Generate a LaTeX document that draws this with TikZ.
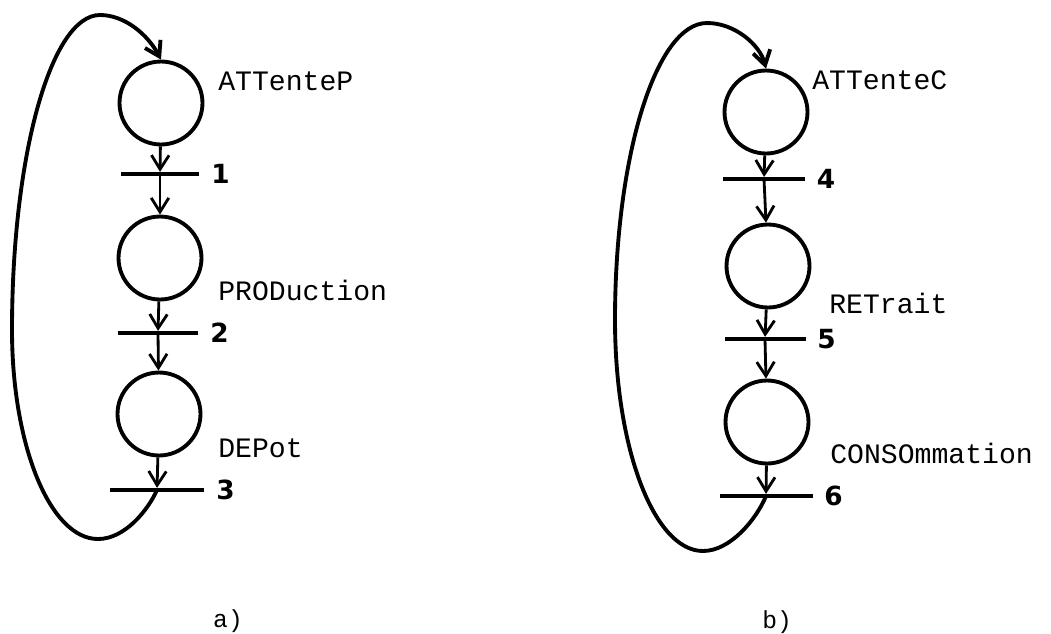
\documentclass[tikz,border=0pt]{standalone}
\usepackage{fontspec}
\setmonofont{Liberation Mono}
\newfontfamily\handfont{DejaVu Sans}
\usetikzlibrary{arrows.meta}

\tikzset{
  place/.style={draw,line width=2.2pt,circle,minimum size=1.66cm,inner sep=0pt},
  trans/.style={fill=black,rectangle,inner sep=0pt,minimum height=2pt,minimum width=#1},
  tnum/.style={font=\handfont\bfseries\fontsize{15}{17}\selectfont},
  pname/.style={anchor=base west,inner sep=0pt,font=\ttfamily\fontsize{16}{19}\selectfont},
  caption/.style={anchor=base,inner sep=0pt,font=\ttfamily\fontsize{14}{16}\selectfont},
  flow/.style={->,line width=1.6pt},
  back/.style={->,line width=2.2pt}
}

\begin{document}
\begin{tikzpicture}[x=0.02cm,y=-0.02cm,>={Straight Barb[length=8pt,width=10pt]},label distance=3pt]
  \useasboundingbox (0,0) rectangle (1051,633);
  % a)
  \node (attP) at (161,103) [place] {};
  \node (t1) at (160,174) [trans=1.58cm,label={[tnum]right:1}] {};
  \node (prod) at (160,258) [place] {};
  \node (t2) at (158,333) [trans=1.62cm,label={[tnum]right:2}] {};
  \node (depot) at (159,414) [place] {};
  \node (t3) at (157,490) [trans=1.9cm,label={[tnum]right:3}] {};
  \node (nattP) at (218,90) [pname] {ATTenteP};
  \node (nprod) at (218,300) [pname] {PRODuction};
  \node (ndepot) at (218,457) [pname] {DEPot};
  \node (capA) at (228,627) [caption] {a)};
  \draw [flow] (attP) -- (t1);
  \draw [flow] (t1) -- (prod);
  \draw [flow] (prod) -- (t2);
  \draw [flow] (t2) -- (depot);
  \draw [flow] (depot) -- (t3);
  \draw [back] (t3.center) .. controls (148,510) and (125,539) .. (98,539)
    .. controls (50,539) and (12,445) .. (12,330)
    .. controls (12,156) and (51,15) .. (100,15)
    .. controls (125,15) and (148,35) .. (attP.north);
  % b)
  \node (attC) at (766,112) [place] {};
  \node (t4) at (764,179) [trans=1.64cm,label={[tnum]right:4}] {};
  \node (retrait) at (768,266) [place] {};
  \node (t5) at (765,339) [trans=1.62cm,label={[tnum]right:5}] {};
  \node (conso) at (767,422) [place] {};
  \node (t6) at (766,496) [trans=1.86cm,label={[tnum]right:6}] {};
  \node (nattC) at (812,89) [pname] {ATTenteC};
  \node (nretrait) at (829,313) [pname] {RETrait};
  \node (nconso) at (830,463) [pname] {CONSOmmation};
  \node (capB) at (777,628) [caption] {b)};
  \draw [flow] (attC) -- (t4);
  \draw [flow] (t4) -- (retrait);
  \draw [flow] (retrait) -- (t5);
  \draw [flow] (t5) -- (conso);
  \draw [flow] (conso) -- (t6);
  \draw [back] (t6.center) .. controls (756,520) and (730,551) .. (703,551)
    .. controls (654,551) and (615,448) .. (615,320)
    .. controls (615,156) and (656,23) .. (707,23)
    .. controls (735,23) and (760,45) .. (attC.north);
\end{tikzpicture}
\end{document}
